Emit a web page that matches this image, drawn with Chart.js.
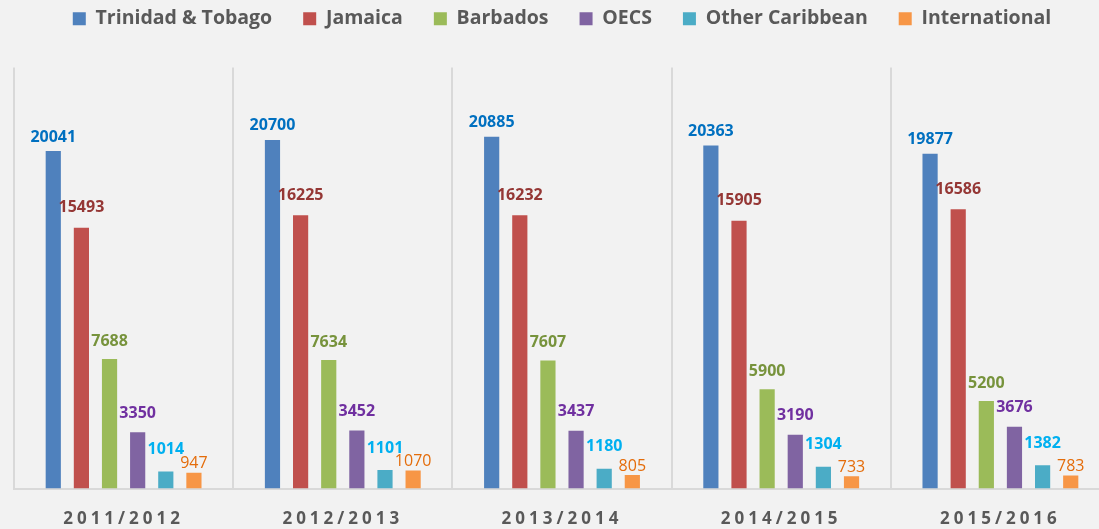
<!DOCTYPE html>
<html>
<head>
<meta charset="utf-8">
<script src="https://cdn.jsdelivr.net/npm/chart.js@4"></script>
<style>
  html, body { margin: 0; padding: 0; background: #f2f2f2; overflow: hidden; }
  #wrap { width: 1110px; height: 529px; }
</style>
</head>
<body>
<div id="wrap"><canvas id="regionChart" width="1110" height="529"></canvas></div>
<script>
// data
const years = ["2011/2012", "2012/2013", "2013/2014", "2014/2015", "2015/2016"];
const trinidad = [20041, 20700, 20885, 20363, 19877];
const jamaica = [15493, 16225, 16232, 15905, 16586];
const barbados = [7688, 7634, 7607, 5900, 5200];
const oecs = [3350, 3452, 3437, 3190, 3676];
const otherCaribbean = [1014, 1101, 1180, 1304, 1382];
const international = [947, 1070, 805, 733, 783];

const seriesStyle = [
    { name: "Trinidad & Tobago", data: trinidad, fill: "#4f81bd", label: "#0070c0", bold: true, lift: 14 },
    { name: "Jamaica", data: jamaica, fill: "#c0504d", label: "#953735", bold: true, lift: 20 },
    { name: "Barbados", data: barbados, fill: "#9bbb59", label: "#77933c", bold: true, lift: 18 },
    { name: "OECS", data: oecs, fill: "#8064a2", label: "#7030a0", bold: true, lift: 19 },
    { name: "Other Caribbean", data: otherCaribbean, fill: "#4bacc6", label: "#00b0f0", bold: true, lift: 22 },
    { name: "International", data: international, fill: "#f79646", label: "#e46c0a", bold: false, lift: 9 }
];

/* extra gap under the legend */
const legendGap = {
    id: "legendGap",
    beforeInit(chart) {
        const fit = chart.legend.fit;
        chart.legend.fit = function () {
            fit.call(this);
            this.height += 29;
        };
    }
};

/* value labels above each bar */
const valueLabels = {
    id: "valueLabels",
    afterDatasetsDraw(chart) {
        const ctx = chart.ctx;
        ctx.save();
        ctx.textAlign = "center";
        ctx.textBaseline = "middle";
        seriesStyle.forEach((s, i) => {
            const meta = chart.getDatasetMeta(i);
            ctx.fillStyle = s.label;
            ctx.font = (s.bold ? "bold " : "") + "16px 'Open Sans'";
            meta.data.forEach((bar, j) => {
                ctx.fillText(String(s.data[j]), bar.x, bar.y - s.lift);
            });
        });
        ctx.restore();
        // spaced-out year labels are drawn after this (ticks z = 1)
        ctx.letterSpacing = "4px";
    },
    afterDraw(chart) {
        chart.ctx.letterSpacing = "0px";
    }
};

document.addEventListener("DOMContentLoaded", function () {

    const canvas = document.getElementById("regionChart");

    new Chart(canvas, {
        type: "bar",
        data: {
            labels: years,
            datasets: seriesStyle.map(s => ({
                label: s.name,
                data: s.data,
                backgroundColor: s.fill,
                borderWidth: 0,
                categoryPercentage: 0.77,
                barPercentage: 0.54
            }))
        },
        options: {
            responsive: false,
            animation: false,
            layout: { padding: { left: 14, right: 0, top: -22, bottom: -20 } },
            plugins: {
                legend: {
                    position: "top",
                    labels: {
                        boxWidth: 13,
                        boxHeight: 13,
                        padding: 31,
                        color: "#595959",
                        font: { family: "'Open Sans'", size: 19.5, weight: "bold" }
                    }
                },
                tooltip: { enabled: false }
            },
            scales: {
                x: {
                    grid: {
                        offset: true,
                        color: "#d9d9d9",
                        lineWidth: 2,
                        drawTicks: false
                    },
                    border: { color: "#d9d9d9", width: 2 },
                    ticks: {
                        z: 1,
                        padding: 20,
                        color: "#595959",
                        font: { family: "'Open Sans'", size: 17, weight: "bold" }
                    }
                },
                y: {
                    display: false,
                    min: 0,
                    max: 25000
                }
            }
        },
        plugins: [legendGap, valueLabels]
    });

});
</script>
</body>
</html>
